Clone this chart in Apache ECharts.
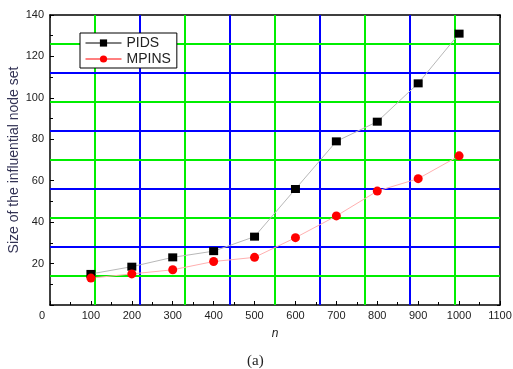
<!DOCTYPE html>
<html>
<head>
<meta charset="utf-8">
<script src="https://cdn.jsdelivr.net/npm/echarts@6/dist/echarts.min.js"></script>
<style>
  html, body { margin: 0; padding: 0; background: #fff; }
  #chart { width: 513px; height: 369px; }
</style>
</head>
<body>
<div id="chart"></div>
<script>
// Network size n on the x axis
const nValues = [100, 200, 300, 400, 500, 600, 700, 800, 900, 1000];
// Size of the influential node set found by each method
const pidsValues = [15, 18.5, 23, 26, 33, 56, 79, 88.5, 107, 131];
const mpinsValues = [13, 15, 17, 21, 23, 32.5, 43, 55, 61, 72];

const xTicks = { min: 0, max: 1100, step: 100 };
const yTicks = { min: 0, max: 140, step: 20 };
// the plot area is split into this many equal bands by the coloured grid
const gridDivisions = 10;

const font = '"Liberation Sans", Arial, sans-serif';
const frame = { show: true, onZero: false, lineStyle: { color: '#000', width: 1.5 } };
const gridColors = ['#00ee00', '#0000ff'];

// interior division values along an axis range
function divisions(min, max) {
  const out = [];
  for (let i = 1; i < gridDivisions; i++) out.push(min + (max - min) * i / gridDivisions);
  return out;
}
const gridLines = [
  ...divisions(xTicks.min, xTicks.max).map((v, i) => ({
    xAxis: v, lineStyle: { color: gridColors[i % 2], width: 2, type: 'solid' }
  })),
  ...divisions(yTicks.min, yTicks.max).map((v, i) => ({
    yAxis: v, lineStyle: { color: gridColors[i % 2], width: 2, type: 'solid' }
  }))
];

const chart = echarts.init(document.getElementById('chart'));
chart.setOption({
  animation: false,
  backgroundColor: '#fff',
  grid: { left: 50, right: 13, top: 15, bottom: 64, containLabel: false, outerBoundsMode: 'none' },
  legend: {
    orient: 'vertical',
    left: 80,
    top: 33,
    padding: [3, 6, 2, 5],
    itemWidth: 36,
    itemHeight: 9,
    itemGap: 2,
    backgroundColor: '#fff',
    borderColor: '#000',
    borderWidth: 1,
    textStyle: { fontFamily: font, fontSize: 14, color: '#222' },
    data: [
      { name: 'PIDS', itemStyle: { color: '#000' }, lineStyle: { color: '#000', width: 1 } },
      { name: 'MPINS', itemStyle: { color: '#ff0000' }, lineStyle: { color: '#ff0000', width: 1 } }
    ]
  },
  xAxis: [
    {
      type: 'value',
      min: xTicks.min, max: xTicks.max, interval: xTicks.step,
      position: 'bottom',
      name: 'n',
      nameLocation: 'middle',
      nameGap: 23,
      nameTextStyle: { fontFamily: font, fontSize: 12, fontStyle: 'italic', color: '#222' },
      axisLine: frame,
      axisTick: { show: true, inside: true, length: 4, lineStyle: { color: '#000' } },
      minorTick: { show: true, splitNumber: 2, length: 3, lineStyle: { color: '#000' } },
      splitLine: { show: false },
      axisLabel: {
        fontFamily: font, fontSize: 11, color: '#222', margin: 5,
        formatter: v => v === 0 ? '{o|0}' : String(v),
        rich: { o: { fontFamily: font, fontSize: 11, color: '#222', padding: [0, 16, 0, 0] } }
      }
    },
    {
      // top edge of the frame, ticked at the grid divisions
      type: 'value',
      min: xTicks.min, max: xTicks.max, interval: (xTicks.max - xTicks.min) / gridDivisions,
      position: 'top',
      axisLine: frame,
      axisTick: { show: true, inside: true, length: 3, lineStyle: { color: '#000' } },
      axisLabel: { show: false },
      splitLine: { show: false }
    }
  ],
  yAxis: [
    {
      type: 'value',
      min: yTicks.min, max: yTicks.max, interval: yTicks.step,
      position: 'left',
      name: 'Size of the influential node set',
      nameLocation: 'middle',
      nameGap: 29,
      nameMoveOverlap: false,
      nameTextStyle: { fontFamily: font, fontSize: 14, color: '#333355' },
      axisLine: frame,
      axisTick: { show: true, inside: true, length: 4, lineStyle: { color: '#000' } },
      minorTick: { show: true, splitNumber: 2, length: 3, lineStyle: { color: '#000' } },
      splitLine: { show: false },
      axisLabel: {
        fontFamily: font, fontSize: 11, color: '#222', margin: 6,
        formatter: v => v === 0 ? '' : String(v)
      }
    },
    {
      // right edge of the frame, ticked at the grid divisions
      type: 'value',
      min: yTicks.min, max: yTicks.max, interval: (yTicks.max - yTicks.min) / gridDivisions,
      position: 'right',
      axisLine: frame,
      axisTick: { show: true, inside: true, length: 3, lineStyle: { color: '#000' } },
      axisLabel: { show: false },
      splitLine: { show: false }
    }
  ],
  series: [
    {
      name: 'PIDS',
      type: 'line',
      xAxisIndex: 0, yAxisIndex: 0,
      data: nValues.map((n, i) => [n, pidsValues[i]]),
      symbol: 'rect',
      symbolSize: [9, 8],
      itemStyle: { color: '#000' },
      lineStyle: { color: '#b8b8b8', width: 1 },
      z: 3,
      markLine: {
        silent: true,
        z: 1,
        symbol: 'none',
        label: { show: false },
        emphasis: { disabled: true },
        data: gridLines
      }
    },
    {
      name: 'MPINS',
      type: 'line',
      xAxisIndex: 0, yAxisIndex: 0,
      data: nValues.map((n, i) => [n, mpinsValues[i]]),
      symbol: 'circle',
      symbolSize: 9,
      itemStyle: { color: '#ff0000' },
      lineStyle: { color: '#ffb0b0', width: 1 },
      z: 3
    }
  ],
  graphic: [
    {
      type: 'text',
      left: 247,
      top: 354,
      style: { text: '(a)', fontFamily: '"Liberation Serif", "DejaVu Serif", serif', fontSize: 15, fill: '#222' }
    }
  ]
});
</script>
</body>
</html>
